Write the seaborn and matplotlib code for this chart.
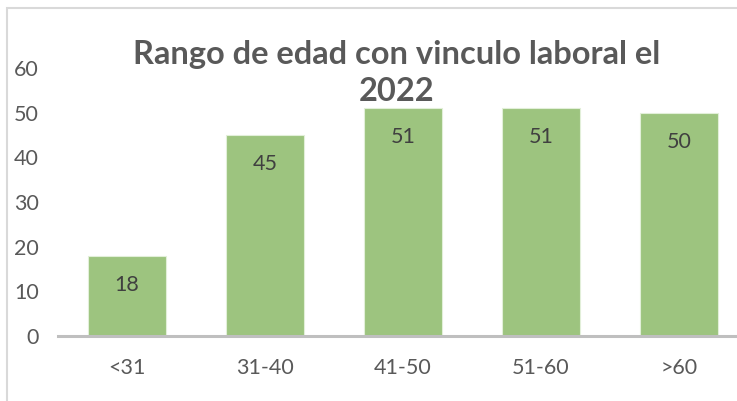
import matplotlib
matplotlib.use("Agg")
import matplotlib.pyplot as plt
import matplotlib.patches as mpatches
import seaborn as sns
import pandas as pd

categories = ["<31", "31-40", "41-50", "51-60", ">60"]
values = [18, 45, 51, 51, 50]
yticks = [0, 10, 20, 30, 40, 50, 60]
title = "Rango de edad con vinculo laboral el\n2022"

sns.set_theme(style="white")
plt.rcParams['font.family'] = ['Lato', 'DejaVu Sans']

df = pd.DataFrame({"rango": categories, "n": values})

fig = plt.figure(figsize=(7.37, 4.01), dpi=100)
W, H = 737, 401
ax = fig.add_axes([58 / W, 65 / H, (748 - 58) / W, (336 - 68) / H])

sns.barplot(data=df, x="rango", y="n", ax=ax, color="#9DC47F", saturation=1,
            width=0.56, edgecolor="#E2EFD9", linewidth=0.8)

ax.set_ylim(0, 60)
ax.set_yticks(yticks)
ax.set_xlabel("")
ax.set_ylabel("")
for s in ["top", "right", "left"]:
    ax.spines[s].set_visible(False)
ax.spines["bottom"].set_color("#BFBFBF")
ax.spines["bottom"].set_linewidth(2.2)
ax.tick_params(axis="y", length=0, pad=14, labelsize=15.5, labelcolor="#595959")
ax.tick_params(axis="x", length=0, pad=16, labelsize=15.5, labelcolor="#595959")

for p, v in zip(ax.patches, values):
    ax.annotate(f"{v}", xy=(p.get_x() + p.get_width() / 2, p.get_height()),
                xytext=(0, -21), textcoords="offset points", ha="center",
                va="center", fontsize=15.5, color="#404040")

fig.text(397 / W, 1 - 73 / H, title, ha="center", va="center", fontsize=23.5,
         fontweight="bold", color="#595959", linespacing=1.35)

frame = mpatches.Rectangle((7 / W, -0.1), 2, 1.1 - 8 / H, transform=fig.transFigure,
                           fill=False, edgecolor="#D9D9D9", linewidth=1.5)
fig.patches.append(frame)

fig.savefig("out.png", dpi=100)
